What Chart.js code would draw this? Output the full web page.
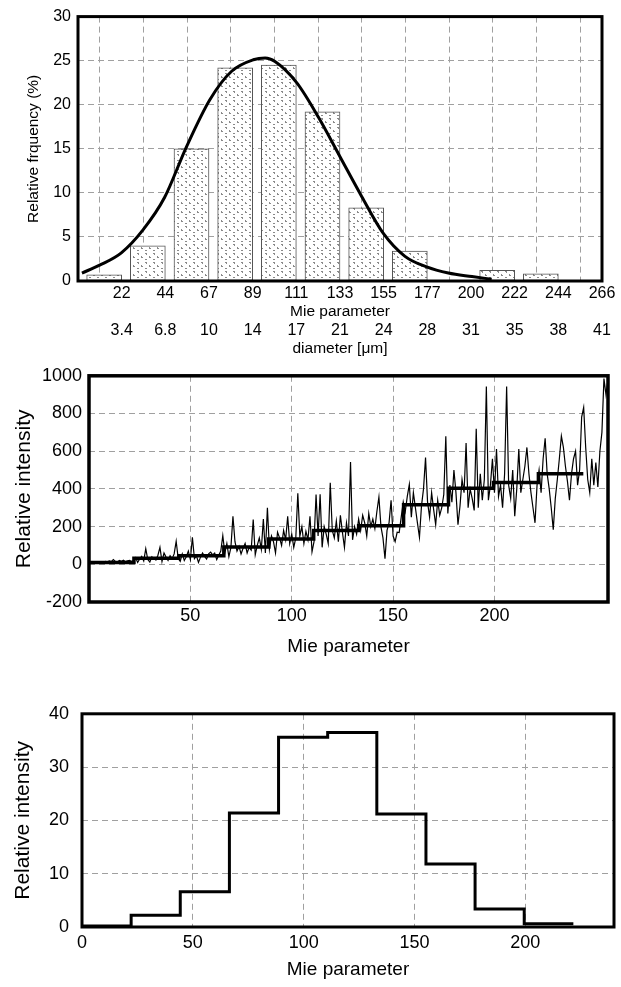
<!DOCTYPE html>
<html>
<head>
<meta charset="utf-8">
<script src="https://cdn.jsdelivr.net/npm/chart.js@4/dist/chart.umd.min.js"></script>
<style>
    html, body { margin: 0; padding: 0; background: #fff; }
    body { width: 621px; height: 987px; position: relative; overflow: hidden; }
    canvas { position: absolute; left: 0; }
</style>
</head>
<body>
<canvas id="graficoFrecuencia" width="621" height="365" style="top:0px"></canvas>
<canvas id="graficoIntensidad" width="621" height="307" style="top:358px"></canvas>
<canvas id="graficoTamano" width="621" height="297" style="top:690px"></canvas>
<script>
// bin edges in Mie parameter (12 bins up to 266) and their labels
const binEdges = [0, 22.17, 44.33, 66.5, 88.67, 110.83, 133, 155.17, 177.33, 199.5, 221.67, 243.83, 266];
const mieLabels = ["22", "44", "67", "89", "111", "133", "155", "177", "200", "222", "244", "266"];
const diameterLabels = ["3.4", "6.8", "10", "14", "17", "21", "24", "28", "31", "35", "38", "41"];

// top: measured relative frequency per bin (%) and fitted curve
const freqValues = [0.7, 4.0, 15.0, 24.2, 24.5, 19.2, 8.3, 3.4, 0, 1.2, 0.8, 0];
const fitX = [2, 11, 22, 33, 44, 55, 67, 78, 89, 95, 100, 111, 122, 133, 144, 155, 166, 177, 188, 200, 210];
const fitY = [0.9, 1.8, 3.2, 5.8, 9.5, 15.2, 20.6, 23.8, 25.1, 25.3, 24.9, 22.5, 18.6, 14.1, 9.6, 5.4, 2.8, 1.6, 0.9, 0.5, 0.2];

// middle: raw intensity, one value per Mie parameter 0..256
const intensity = [
    5, 8, 12, 6, 10, 14, 9, 11, 16, 12, 18, 14, 25, 15, 12, 20, 16, 22, 14, 18, 21, 15,
    20, 35, 10, 28, 42, 18, 83, 25, 12, 40, 30, 22, 48, 90, 15, 60, 38, 20, 45, 30, 55, 122,
    30, 15, 55, 20, 40, 70, 25, 143, 30, 45, 10, 38, 60, 42, 28, 55, 65, 50, 60, 25, 48, 70, 152,
    60, 110, 40, 90, 255, 120, 70, 95, 55, 85, 110, 60, 90, 75, 238, 50, 100, 140, 80, 240, 60, 300,
    80, 150, 120, 60, 170, 140, 100, 180, 130, 255, 110, 160, 90, 140, 377, 150, 200, 110, 175, 130, 255, 66,
    120, 370, 150, 372, 90, 200, 160, 110, 432, 180, 140, 230, 120, 260, 170, 90, 220, 150, 542, 130, 200, 160,
    240, 180, 260, 220, 150, 270, 200, 240, 190, 280, 357, 200, 140, 30, 180, 220, 340, 150, 120, 170, 168, 250,
    330, 280, 360, 423, 250, 380, 300, 220, 143, 310, 400, 566, 330, 250, 380, 290, 210, 340, 260, 300, 370, 679,
    270, 420, 330, 500, 380, 210, 310, 450, 380, 643, 300, 400, 350, 286, 719, 300, 480, 340, 450, 943, 340, 420, 560,
    380, 612, 360, 420, 300, 480, 943, 420, 350, 500, 255, 400, 612, 380, 450, 520, 620, 480, 380, 300, 220, 420,
    500, 380, 560, 669, 480, 400, 300, 184, 350, 450, 560, 680, 620, 520, 440, 340, 480, 560, 600, 420, 500, 781,
    832, 620, 450, 380, 560, 420, 540, 410, 600, 700, 985, 900, 980
];
// middle: bin averages (11 bins)
const intensitySteps = [10, 32, 46, 92, 134, 179, 204, 316, 403, 434, 480];

// bottom: retrieved size distribution (10 bins)
const sizeSteps = [0.2, 2.2, 6.6, 21.4, 35.6, 36.5, 21.2, 11.8, 3.4, 0.6];

Chart.defaults.font.family = "'Liberation Sans', Arial, sans-serif";
Chart.defaults.color = "#000";

const GRID = "#a0a0a0";
const DASH = [6, 4];

// marco negro grueso alrededor del area de datos
const marco = {
    id: "marco",
    afterDatasetsDraw(chart, args, opts) {
        const { ctx, chartArea: a } = chart;
        ctx.save();
        ctx.strokeStyle = "#000";
        ctx.lineWidth = opts.width || 3;
        ctx.strokeRect(a.left, a.top, a.right - a.left, a.bottom - a.top);
        ctx.restore();
    }
};

function punteado() {
    const c = document.createElement("canvas");
    c.width = 8; c.height = 9;
    const g = c.getContext("2d");
    g.fillStyle = "#fff";
    g.fillRect(0, 0, 8, 9);
    g.fillStyle = "#8a8a8a";
    g.fillRect(1, 1, 2, 1); g.fillRect(2, 2, 1, 1);
    g.fillRect(5, 4, 1, 2); g.fillRect(6, 5, 1, 1);
    g.fillRect(1, 7, 2, 1);
    return g.createPattern(c, "repeat");
}

// cada valor se mantiene desde el inicio de su intervalo hasta el siguiente
function steps(edges, vals) {
    const pts = vals.map((v, i) => ({ x: edges[i], y: v }));
    pts.push({ x: edges[vals.length], y: vals[vals.length - 1] });
    return pts;
}

const base = {
    responsive: false,
    animation: false,
    devicePixelRatio: 1,
    events: []
};

const plain = v => String(v);

// Grafica de frecuencia relativa
const binCenters = binEdges.slice(0, -1).map((e, i) => (e + binEdges[i + 1]) / 2);
new Chart(document.getElementById("graficoFrecuencia"), {
    type: "bar",
    data: {
        datasets: [
            {
                type: "line",
                data: fitX.map((x, i) => ({ x: x, y: fitY[i] })),
                borderColor: "#000",
                borderWidth: 3,
                pointRadius: 0,
                cubicInterpolationMode: "monotone"
            },
            {
                type: "bar",
                data: binCenters.map((x, i) => ({ x: x + 2.2, y: freqValues[i] })),
                backgroundColor: punteado(),
                borderColor: "#555",
                borderWidth: 1,
                borderSkipped: false,
                barThickness: 35
            }
        ]
    },
    options: {
        ...base,
        layout: { padding: { top: 16, right: 19, left: 0, bottom: 0 } },
        plugins: { legend: { display: false }, tooltip: { enabled: false }, marco: { width: 3 } },
        scales: {
            x: {
                type: "linear", min: 0, max: 266, offset: false,
                afterBuildTicks: s => { s.ticks = binEdges.slice(1).map(v => ({ value: v })); },
                afterFit: s => { s.height = 40; },
                ticks: { autoSkip: false, maxRotation: 0, padding: 3, font: { size: 16 }, callback: (v, i) => mieLabels[i] },
                grid: { color: GRID, drawTicks: false },
                border: { display: false, dash: DASH },
                title: { display: true, text: "Mie parameter", font: { size: 15.5 }, padding: { top: 0, bottom: 0 } }
            },
            x2: {
                type: "linear", position: "bottom", min: 0, max: 266, offset: false,
                afterBuildTicks: s => { s.ticks = binEdges.slice(1).map(v => ({ value: v })); },
                afterFit: s => { s.height = 44; },
                ticks: { autoSkip: false, maxRotation: 0, padding: 0, font: { size: 16 }, callback: (v, i) => diameterLabels[i] },
                grid: { display: false, drawTicks: false },
                border: { display: false },
                title: { display: true, text: "diameter [\u03bcm]", font: { size: 15.5 }, padding: { top: 0, bottom: 7 } }
            },
            y: {
                min: 0, max: 30,
                afterFit: s => { s.width = 78; },
                ticks: { stepSize: 5, padding: 7, font: { size: 16 }, callback: plain },
                grid: { color: GRID, drawTicks: false },
                border: { display: false, dash: DASH },
                title: { display: true, text: "Relative frquency (%)", font: { size: 15.5 }, padding: { top: 24, bottom: 0 } }
            }
        }
    },
    plugins: [marco]
});

// Grafica de intensidad
new Chart(document.getElementById("graficoIntensidad"), {
    type: "line",
    data: {
        datasets: [
            {
                data: steps(binEdges, intensitySteps),
                borderColor: "#000",
                borderWidth: 3.5,
                pointRadius: 0,
                stepped: "before"
            },
            {
                data: intensity.map((y, x) => ({ x: x, y: y })),
                borderColor: "#000",
                borderWidth: 1.2,
                pointRadius: 0
            }
        ]
    },
    options: {
        ...base,
        layout: { padding: { top: 9, right: 13, left: 0, bottom: 0 } },
        plugins: { legend: { display: false }, tooltip: { enabled: false }, marco: { width: 3.5 } },
        scales: {
            x: {
                type: "linear", min: 0, max: 256,
                afterBuildTicks: s => { s.ticks = s.ticks.filter(t => t.value > 0 && t.value % 50 === 0); },
                afterFit: s => { s.height = 63; },
                ticks: { stepSize: 50, autoSkip: false, maxRotation: 0, padding: 3, font: { size: 18 }, callback: plain },
                grid: { color: GRID, drawTicks: false },
                border: { display: false, dash: DASH },
                title: { display: true, text: "Mie parameter", font: { size: 19 }, padding: { top: 0, bottom: 7 } }
            },
            y: {
                min: -200, max: 1000,
                afterFit: s => { s.width = 89; },
                ticks: { stepSize: 200, padding: 7, font: { size: 18 }, callback: plain },
                grid: { color: GRID, drawTicks: false },
                border: { display: false, dash: DASH },
                title: { display: true, text: "Relative intensity", font: { size: 21 }, padding: { top: 12, bottom: 0 } }
            }
        }
    },
    plugins: [marco]
});

// Grafica de distribucion recuperada
new Chart(document.getElementById("graficoTamano"), {
    type: "line",
    data: {
        datasets: [
            {
                data: steps(binEdges, sizeSteps),
                borderColor: "#000",
                borderWidth: 3,
                pointRadius: 0,
                stepped: "before"
            }
        ]
    },
    options: {
        ...base,
        layout: { padding: { top: 21, right: 7, left: 0, bottom: 0 } },
        plugins: { legend: { display: false }, tooltip: { enabled: false }, marco: { width: 3 } },
        scales: {
            x: {
                type: "linear", min: 0, max: 240,
                afterBuildTicks: s => { s.ticks = s.ticks.filter(t => t.value % 50 === 0); },
                afterFit: s => { s.height = 60; },
                ticks: { stepSize: 50, autoSkip: false, maxRotation: 0, padding: 5, font: { size: 18 }, callback: plain },
                grid: { color: GRID, drawTicks: false },
                border: { display: false, dash: DASH },
                title: { display: true, text: "Mie parameter", font: { size: 19 }, padding: { top: 0, bottom: 6 } }
            },
            y: {
                min: 0, max: 40,
                afterFit: s => { s.width = 82; },
                ticks: { stepSize: 10, padding: 13, font: { size: 18 }, callback: plain },
                grid: { color: GRID, drawTicks: false },
                border: { display: false, dash: DASH },
                title: { display: true, text: "Relative intensity", font: { size: 21 }, padding: { top: 11, bottom: 0 } }
            }
        }
    },
    plugins: [marco]
});
</script>
</body>
</html>
